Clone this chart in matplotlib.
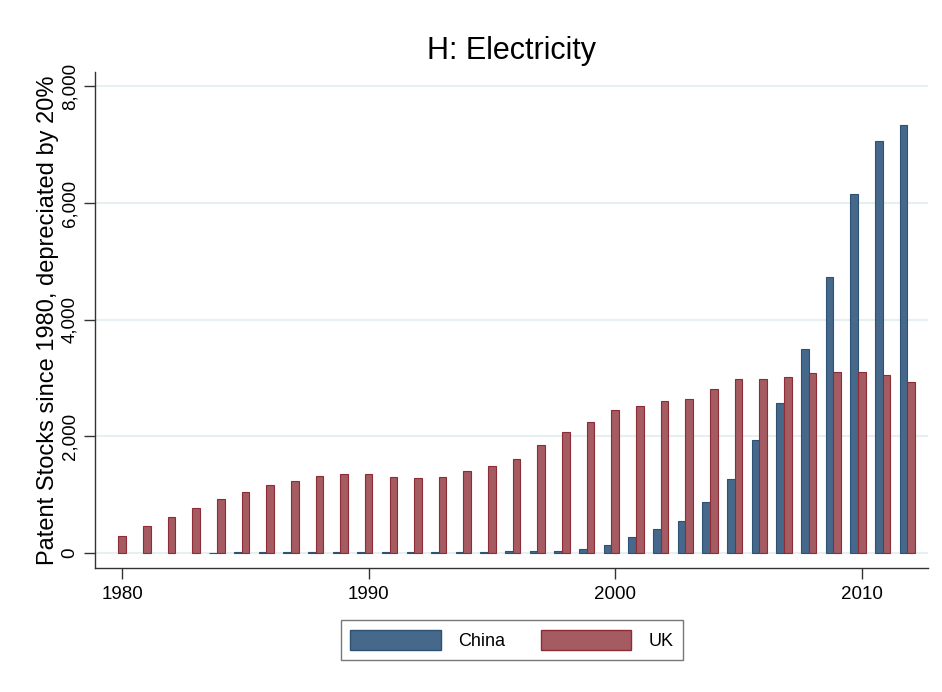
import numpy as np
import matplotlib
matplotlib.use("Agg")
import matplotlib.pyplot as plt
from matplotlib.patches import Patch
from matplotlib.ticker import FuncFormatter

plt.rcParams['font.family'] = ['Liberation Sans', 'DejaVu Sans']

years = np.arange(1980, 2013)
china = [0, 0, 0, 0, 8, 10, 12, 12, 13, 14, 15, 16, 18, 20, 22, 25, 28,
         30, 40, 75, 144, 270, 406, 555, 874, 1263, 1937, 2566, 3502,
         4731, 6153, 7057, 7331]
uk = [291, 463, 617, 771, 920, 1040, 1160, 1240, 1320, 1350, 1350, 1308,
      1286, 1308, 1411, 1497, 1611, 1856, 2068, 2251, 2457, 2520, 2611,
      2640, 2817, 2988, 2977, 3011, 3080, 3108, 3108, 3057, 2937]
xticks = [1980, 1990, 2000, 2010]
yticks = [0, 2000, 4000, 6000, 8000]

china_fill, china_edge = '#46698b', '#2d5274'
uk_fill, uk_edge = '#a55b62', '#8e2c36'
grid_col = '#e6eff1'

fig = plt.figure(figsize=(9.42, 6.92), dpi=100)
ax = fig.add_axes([0.1008, 0.1792, 0.884, 0.7168])

w = 0.31
# no outline on empty bars
china_lw = [0 if v == 0 else 0.8 for v in china]
ax.bar(years - w, china, width=w, color=china_fill, edgecolor=china_edge, linewidth=china_lw, zorder=3)
ax.bar(years, uk, width=w, color=uk_fill, edgecolor=uk_edge, linewidth=0.8, zorder=3)

ax.set_xlim(1978.9, 2012.67)
ax.set_ylim(-257, 8245)
ax.set_xticks(xticks)
ax.set_yticks(yticks)
ax.yaxis.set_major_formatter(FuncFormatter(lambda v, p: '{:,.0f}'.format(v)))
for yv in yticks:
    ax.axhline(yv, color=grid_col, linewidth=1.5, zorder=1)

for s in ['top', 'right']:
    ax.spines[s].set_visible(False)
for s in ['left', 'bottom']:
    ax.spines[s].set_color('#333333')
    ax.spines[s].set_linewidth(1.0)

ax.tick_params(axis='both', length=8, width=1.0, color='#333333', labelsize=13.5)
ax.tick_params(axis='y', pad=4)
ax.tick_params(axis='x', pad=5)
for lab in ax.get_yticklabels():
    lab.set_rotation(90)
    lab.set_va('center')

ax.set_ylabel('Patent Stocks since 1980, depreciated by 20%', fontsize=17, labelpad=2)
ax.set_title('H: Electricity', fontsize=22, pad=9)

handles = [Patch(facecolor=china_fill, edgecolor=china_edge, label='China'),
           Patch(facecolor=uk_fill, edgecolor=uk_edge, label='UK')]
leg = fig.legend(handles=handles, loc='center', bbox_to_anchor=(0.5435, 0.0755), ncol=2,
                 fontsize=13, handlelength=5.0, handleheight=1.35, handletextpad=0.95,
                 columnspacing=2.0, frameon=True, fancybox=False, borderpad=0.55)
leg.get_frame().set_edgecolor('#555555')
leg.get_frame().set_linewidth(1.0)

fig.savefig('out.png', dpi=100)
